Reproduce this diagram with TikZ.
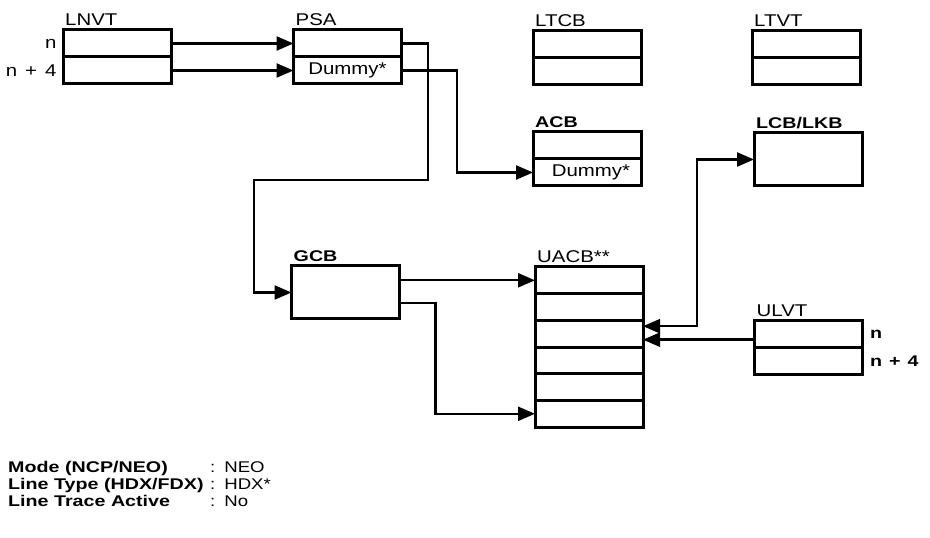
\documentclass[tikz,border=0pt]{standalone}
\usepackage{fontspec}
\setmainfont{Liberation Sans}[FakeStretch=1.2]
\newfontfamily\hdbold{Liberation Sans Bold}[FakeStretch=1.27]
\usetikzlibrary{calc,positioning,arrows.meta}

\tikzset{
  cell/.style={draw,line width=3pt,minimum width=108pt,minimum height=27pt,inner sep=0pt,outer sep=0pt,font=\fontsize{17}{19}\selectfont},
  lbl/.style={anchor=base west,inner sep=0pt,xshift=2pt,yshift=4pt,font=\fontsize{17}{19}\selectfont},
  blbl/.style={lbl,font=\fontsize{15.5}{18}\hdbold},
  conn/.style={line width=2.4pt,-{Triangle[length=17pt,width=14pt]}}
}

\begin{document}
\begin{tikzpicture}[x=1pt,y=1pt]
\useasboundingbox (0,0) rectangle (930,538);
% table blocks
\node[cell](lnvtA)at(117,494.5){};\node[cell,below=0pt of lnvtA](lnvtB){};
\node[cell](psaA)at(347.5,494.5){};\node[cell,below=0pt of psaA](psaB){Dummy*};
\node[cell](ltcbA)at(587,493.5){};\node[cell,below=0pt of ltcbA](ltcbB){};
\node[cell](ltvtA)at(806,493.5){};\node[cell,below=0pt of ltvtA](ltvtB){};
\node[cell](acbA)at(587,392.5){};\node[cell,below=0pt of acbA](acbB){\hspace*{8pt}Dummy*};
\node[cell,minimum height=53pt](lcb)at(808,378.5){};
\node[cell,minimum height=53pt](gcb)at(345.5,245.5){};
\node[cell,minimum height=26.7pt](uacbA)at(589,257.7){};
\foreach \r/\p in {B/A,C/B,D/C,E/D,F/E}{\node[cell,minimum height=26.7pt,below=0pt of uacb\p](uacb\r){};}
\node[cell](ulvtA)at(808.5,203.5){};\node[cell,below=0pt of ulvtA](ulvtB){};
% titles
\node[lbl](tLNVT)at(lnvtA.north west){LNVT};\node[lbl](tPSA)at(psaA.north west){PSA};
\node[lbl](tLTCB)at(ltcbA.north west){LTCB};\node[lbl](tLTVT)at(ltvtA.north west){LTVT};
\node[blbl](tACB)at(acbA.north west){ACB};\node[blbl](tLCB)at(lcb.north west){LCB/LKB};
\node[blbl](tGCB)at(gcb.north west){GCB};\node[lbl](tUACB)at(uacbA.north west){UACB**};
\node[lbl](tULVT)at(ulvtA.north west){ULVT};
% offsets
\node[anchor=east,xshift=-3pt,font=\fontsize{17}{19}\selectfont](offA)at(lnvtA.west){n};
\node[anchor=east,xshift=-3pt,font=\fontsize{17}{19}\selectfont](offB)at(lnvtB.west){n\hspace{8pt}+\hspace{8pt}4};
\node[anchor=west,xshift=4pt,font=\fontsize{15.5}{18}\hdbold](offC)at(ulvtA.east){n};
\node[anchor=west,xshift=4pt,font=\fontsize{15.5}{18}\hdbold](offD)at(ulvtB.east){n\hspace{7pt}+\hspace{7pt}4};
% pointers
\draw[conn](lnvtA.east)--(psaA.west);\draw[conn](lnvtB.east)--(psaB.west);
\draw[conn](psaA.east)--++(26.5,0)|-(254,358)|-(gcb.west);
\draw[conn](psaB.east)--++(55.5,0)|-(acbB.west);
\draw[conn](gcb.east|-uacbA.west)--(uacbA.west);
\draw[conn]($(gcb.east)+(0,-10.5)$)--++(36,0)|-(uacbF.west);
\draw[conn,{Triangle[length=17pt,width=14pt]}-{Triangle[length=17pt,width=14pt]}]($(uacbC.east)+(0,7.5)$)-|(697,300)|-(lcb.west);
\coordinate(uin)at($(uacbC.east)+(0,-6)$);
\draw[conn](ulvtA.west|-uin)--(uin);
% status lines
\node[anchor=base west,inner sep=0pt,font=\fontsize{15.5}{16.7}\selectfont](legend)at(8,65){%
\begin{tabular}[t]{@{}p{202pt}@{}l@{}}
{\hdbold Mode (NCP/NEO)}&:\hspace{9pt}NEO\\
{\hdbold Line Type (HDX/FDX)}&:\hspace{9pt}HDX*\\
{\hdbold Line Trace Active}&:\hspace{9pt}No
\end{tabular}};
\end{tikzpicture}
\end{document}
